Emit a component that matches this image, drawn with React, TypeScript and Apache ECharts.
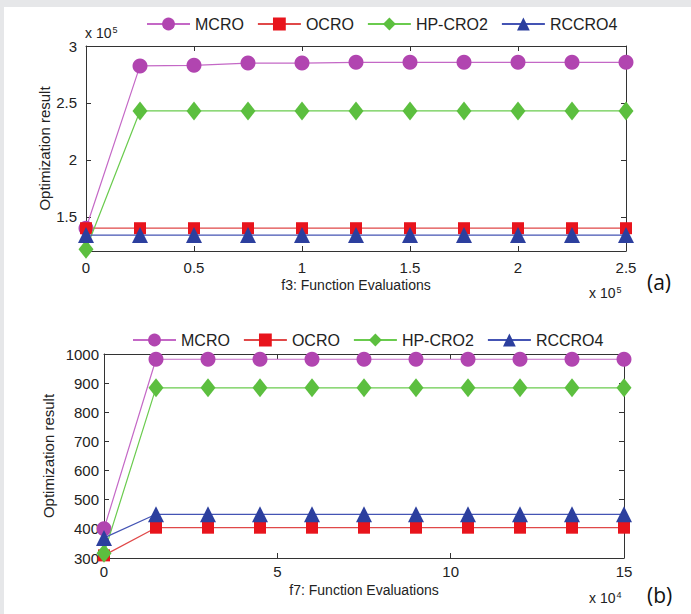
import React, { useEffect, useRef } from "react";
import * as echarts from "echarts";

const seriesNames = ["MCRO", "OCRO", "HP-CRO2", "RCCRO4"];

// Chart (a): f3
const xA = [0, 25000, 50000, 75000, 100000, 125000, 150000, 175000, 200000, 225000, 250000];
const mcroA = [140000, 282500, 283000, 285000, 285000, 285700, 285700, 285700, 285700, 285700, 285700];
const ocroA = [140000, 140000, 140000, 140000, 140000, 140000, 140000, 140000, 140000, 140000, 140000];
const hpA = [121500, 243000, 243000, 243000, 243000, 243000, 243000, 243000, 243000, 243000, 243000];
const rcA = [134000, 134000, 134000, 134000, 134000, 134000, 134000, 134000, 134000, 134000, 134000];
const yTicksA = [150000, 200000, 250000, 300000];

// Chart (b): f7
const xB = [0, 15000, 30000, 45000, 60000, 75000, 90000, 105000, 120000, 135000, 150000];
const mcroB = [400, 982, 982, 982, 982, 982, 982, 982, 982, 982, 982];
const ocroB = [309, 404, 404, 404, 404, 404, 404, 404, 404, 404, 404];
const hpB = [316, 884, 884, 884, 884, 884, 884, 884, 884, 884, 884];
const rcB = [369, 450, 450, 450, 450, 450, 450, 450, 450, 450, 450];

const styles = [
  { symbol: "circle", size: 15, marker: "#b145b0", line: "#c468c6" },
  { symbol: "rect", size: 12, marker: "#e8141c", line: "#e04848" },
  { symbol: "diamond", size: [15, 19], marker: "#5cbf3f", line: "#6acb4e" },
  { symbol: "triangle", size: 16, marker: "#2c3f9e", line: "#4454b4" },
];

const FONT = "'Liberation Sans', Arial, sans-serif";

function zip(xs: number[], ys: number[]) {
  return xs.map((x, i) => [x, ys[i]]);
}

export default function App() {
  const ref = useRef<HTMLDivElement>(null);
  useEffect(() => {
    document.body.style.margin = "0";
    const chart = echarts.init(ref.current!, null, { renderer: "svg" });
    const dataA = [mcroA, ocroA, hpA, rcA];
    const dataB = [mcroB, ocroB, hpB, rcB];

    const axisLine = { show: true, onZero: false, lineStyle: { color: "#333", width: 1 } };
    const tickIn = { show: true, inside: true, length: 5, lineStyle: { color: "#333" } };
    const label = { color: "#222", fontSize: 15, fontFamily: FONT };
    const nameStyle = { color: "#222", fontSize: 14, fontFamily: FONT };
    const yNameStyle = { color: "#222", fontSize: 15, fontFamily: FONT };

    const mkSeries = (data: number[][], xs: number[], gi: number) =>
      data.map((d, i) => ({
        name: seriesNames[i],
        type: "line",
        xAxisIndex: gi * 2,
        yAxisIndex: gi * 2,
        data: zip(xs, d),
        symbol: styles[i].symbol,
        symbolSize: styles[i].size,
        itemStyle: { color: styles[i].marker },
        lineStyle: { color: styles[i].line, width: 1.2 },
        clip: false,
        z: 3 + i,
      }));

    const legend = (left: number, top: number) => ({
      left,
      top,
      itemWidth: 43,
      itemHeight: 16,
      itemGap: 13,
      data: seriesNames,
      textStyle: { color: "#222", fontSize: 16, fontFamily: FONT },
      selectedMode: false,
    });

    const sup = (t: string) => ({
      text: t,
      rich: {
        a: { fontSize: 14, fontFamily: FONT, fill: "#222" },
        b: { fontSize: 9, fontFamily: FONT, fill: "#222", verticalAlign: "top", padding: [0, 0, 7, 1] },
      },
    });

    chart.setOption({
      animation: false,
      backgroundColor: "transparent",
      legend: [legend(141, 11), legend(127, 327)],
      grid: [
        { left: 86, top: 46, width: 540, height: 205, containLabel: false },
        { left: 104, top: 354, width: 520, height: 204, containLabel: false },
      ],
      xAxis: [
        {
          type: "value", gridIndex: 0, position: "bottom", min: 0, max: 250000, interval: 50000,
          axisLine, axisTick: tickIn, splitLine: { show: false },
          axisLabel: { ...label, margin: 9, formatter: (v: number) => String(v / 1e5) },
          name: "f3: Function Evaluations", nameLocation: "middle", nameGap: 27, nameTextStyle: nameStyle,
        },
        {
          type: "value", gridIndex: 0, position: "top", min: 0, max: 250000, interval: 50000,
          axisLine, axisTick: tickIn, splitLine: { show: false }, axisLabel: { show: false },
        },
        {
          type: "value", gridIndex: 1, position: "bottom", min: 0, max: 150000, interval: 50000,
          axisLine, axisTick: tickIn, splitLine: { show: false },
          axisLabel: { ...label, margin: 6, formatter: (v: number) => String(v / 1e4) },
          name: "f7: Function Evaluations", nameLocation: "middle", nameGap: 25, nameTextStyle: nameStyle,
        },
        {
          type: "value", gridIndex: 1, position: "top", min: 0, max: 150000, interval: 50000,
          axisLine, axisTick: tickIn, splitLine: { show: false }, axisLabel: { show: false },
        },
      ],
      yAxis: [
        {
          type: "value", gridIndex: 0, position: "left", min: 120000, max: 300000,
          axisLine, splitLine: { show: false },
          axisTick: { ...tickIn, customValues: yTicksA },
          axisLabel: { ...label, margin: 9, customValues: yTicksA, formatter: (v: number) => String(v / 1e5) },
          name: "Optimization result", nameLocation: "middle", nameGap: 34, nameMoveOverlap: false,
          nameTextStyle: yNameStyle,
        },
        {
          type: "value", gridIndex: 0, position: "right", min: 120000, max: 300000,
          axisLine, splitLine: { show: false },
          axisTick: { ...tickIn, customValues: yTicksA },
          axisLabel: { show: false },
        },
        {
          type: "value", gridIndex: 1, position: "left", min: 300, max: 1000, interval: 100,
          axisLine, splitLine: { show: false }, axisTick: tickIn,
          axisLabel: { ...label, margin: 5, formatter: (v: number) => String(v) },
          name: "Optimization result", nameLocation: "middle", nameGap: 48, nameMoveOverlap: false,
          nameTextStyle: yNameStyle,
        },
        {
          type: "value", gridIndex: 1, position: "right", min: 300, max: 1000, interval: 100,
          axisLine, splitLine: { show: false }, axisTick: tickIn, axisLabel: { show: false },
        },
      ],
      graphic: [
        { type: "text", left: 85, top: 25, style: sup("{a|x 10}{b|5}") },
        { type: "text", left: 589, top: 285, style: sup("{a|x 10}{b|5}") },
        { type: "text", left: 589, top: 590, style: sup("{a|x 10}{b|4}") },
        {
          type: "text", left: 647, top: 271,
          style: { text: "(a)", fontSize: 21, fontFamily: "'Open Sans', sans-serif", fill: "#111" },
        },
        {
          type: "text", left: 647, top: 584,
          style: { text: "(b)", fontSize: 21, fontFamily: "'Open Sans', sans-serif", fill: "#111" },
        },
      ],
      series: [...mkSeries(dataA, xA, 0), ...mkSeries(dataB, xB, 1)],
    });
    return () => chart.dispose();
  }, []);

  return (
    <div style={{ position: "relative", width: 691, height: 614, background: "#e6e7e9" }}>
      <div style={{ position: "absolute", left: 4, top: 7, right: 0, bottom: 0, background: "#ffffff" }} />
      <div ref={ref} style={{ position: "absolute", left: 0, top: 0, width: 691, height: 614 }} />
    </div>
  );
}
